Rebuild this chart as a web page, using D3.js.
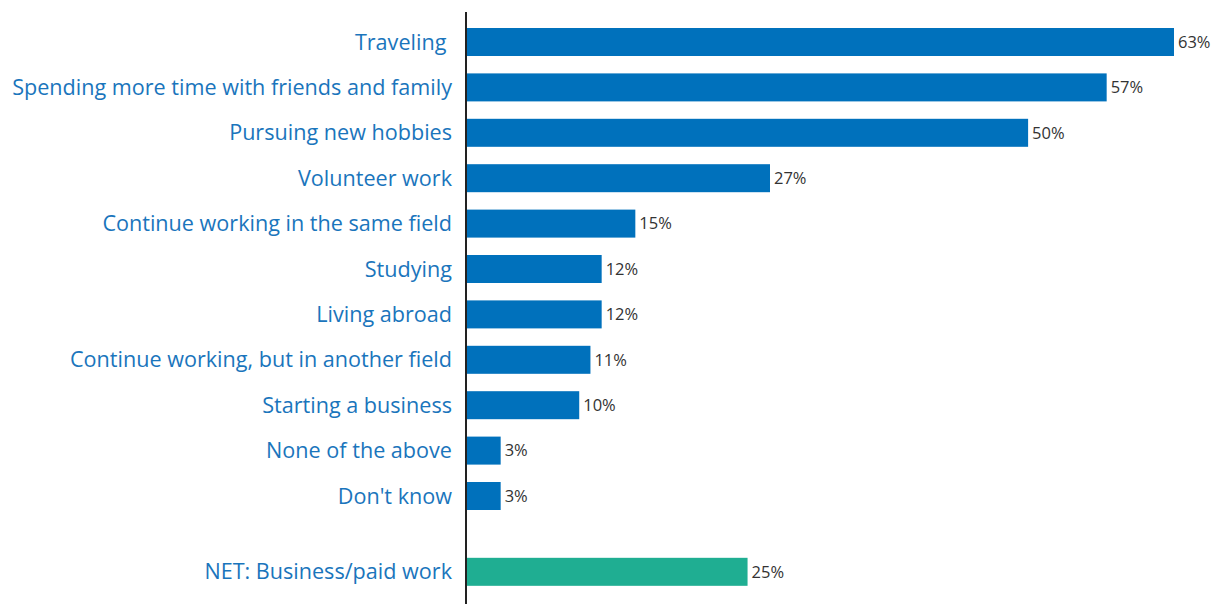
<!DOCTYPE html>
<html><head><meta charset="utf-8">
<script src="https://cdn.jsdelivr.net/npm/d3@7/dist/d3.min.js"></script>
<style>body{margin:0;background:#fff}svg{display:block}</style>
</head><body>
<svg id="c" width="1219" height="604"></svg>
<script>
const categories = ["Traveling ", "Spending more time with friends and family", "Pursuing new hobbies", "Volunteer work", "Continue working in the same field", "Studying", "Living abroad", "Continue working, but in another field", "Starting a business", "None of the above", "Don't know"];
const values = [63, 57, 50, 27, 15, 12, 12, 11, 10, 3, 3];
const netCategory = "NET: Business/paid work";
const netValue = 25;

const svg = d3.select("#c");
const x0 = 467;
const x = d3.scaleLinear().domain([0, 63]).range([x0, 1174]);
const y = d3.scaleLinear().domain([0, 10]).range([42, 496]);
const netPos = 11.67;
const barH = 28;

const rows = categories.map((c, i) => ({c, v: values[i], p: i, color: "#0071bc"}));
rows.push({c: netCategory, v: netValue, p: netPos, color: "#1fae92"});

svg.selectAll("rect.bar").data(rows).enter().append("rect")
  .attr("x", x(0)).attr("y", d => y(d.p) - barH/2)
  .attr("width", d => x(d.v) - x(0)).attr("height", barH)
  .attr("fill", d => d.color);

svg.selectAll("text.lab").data(rows).enter().append("text")
  .attr("x", 452).attr("y", d => y(d.p)).attr("dy", "0.35em")
  .attr("text-anchor", "end").attr("fill", "#1a75bc")
  .style("white-space", "pre")
  .attr("font-family", "'Open Sans', sans-serif").attr("font-size", 21.6)
  .text(d => d.c);

svg.selectAll("text.val").data(rows).enter().append("text")
  .attr("x", d => x(d.v) + 4).attr("y", d => y(d.p)).attr("dy", "0.35em")
  .attr("fill", "#333").attr("font-family", "'Open Sans', sans-serif").attr("font-size", 16.5)
  .text(d => d.v + "%");

svg.append("line").attr("x1", 466).attr("x2", 466).attr("y1", 12).attr("y2", 604)
  .attr("stroke", "#222").attr("stroke-width", 2);
</script>
</body></html>
